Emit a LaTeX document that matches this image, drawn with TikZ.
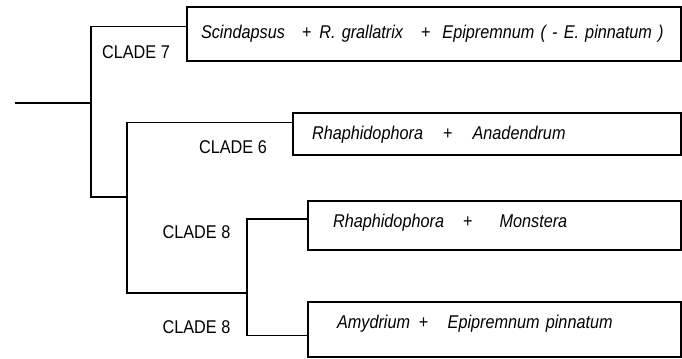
\documentclass[tikz,border=0pt]{standalone}
\usepackage{fontspec}
\setmainfont[FakeStretch=0.88]{Liberation Sans}
\usetikzlibrary{calc}

\begin{document}
\begin{tikzpicture}[x=0.02cm,y=-0.02cm,line width=0.7pt,
                    taxon/.style={draw,line width=0.9pt,align=left,inner ysep=0pt,text height=8pt,font=\fontsize{10.5}{12}\selectfont\itshape},
                    clade/.style={font=\fontsize{10.5}{12}\selectfont}]
\useasboundingbox (0,0) rectangle (682,358);
\node[taxon,minimum height=1.08cm,inner xsep=0.28cm,text width=9.32cm,text depth=2.7pt] (sci) at (434,34)
  {Scindapsus\hspace{9.7pt}{\upshape+}\hspace{4.5pt}R. grallatrix\hspace{10.2pt}{\upshape+}\hspace{6.8pt}Epipremnum ( - E. pinnatum )};
\node[taxon,minimum height=0.84cm,inner xsep=0.38cm,text width=7cm,text depth=1.6pt] (rha) at (487,134)
  {Rhaphidophora\hspace{11.4pt}{\upshape+}\hspace{11.4pt}Anadendrum};
\node[taxon,minimum height=0.98cm,inner xsep=0.5cm,text width=6.46cm,text depth=5.7pt] (mon) at (494.5,225.5)
  {Rhaphidophora\hspace{10.8pt}{\upshape+}\hspace{15.4pt}Monstera};
\node[taxon,minimum height=1.1cm,inner xsep=0.58cm,text width=6.3cm,text depth=9.1pt] (amy) at (494.5,329.5)
  {Amydrium\hspace{5pt}{\upshape+}\hspace{11pt}Epipremnum pinnatum};
\node[clade] (c7)  at (136,52)    {CLADE 7};
\node[clade] (c6)  at (233,147)   {CLADE 6};
\node[clade] (c8a) at (196.5,232) {CLADE 8};
\node[clade] (c8b) at (196.5,327) {CLADE 8};
% branch points
\coordinate (root) at (15,103);
\coordinate (j7) at (91,103);
\coordinate (j6) at (127,197);
\coordinate (j8) at (247,293);
\draw (root) -- (j7);
\draw (j7) |- ($(sci.north west)!0.37!(sci.south west)$);
\draw (j7) |- (j6);
\draw (j6) |- ($(rha.north west)!0.24!(rha.south west)$);
\draw (j6) |- (j8);
\draw (j8) |- ($(mon.north west)!0.37!(mon.south west)$);
\draw (j8) |- ($(amy.north west)!0.6!(amy.south west)$);
\end{tikzpicture}
\end{document}
